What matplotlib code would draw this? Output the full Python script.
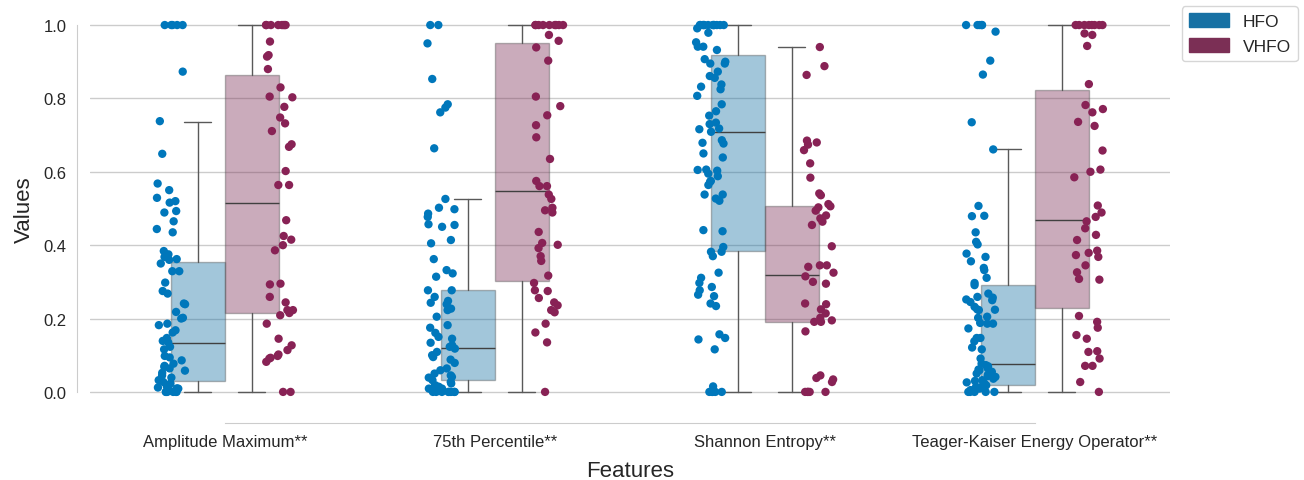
import numpy as np
import pandas as pd
import matplotlib
matplotlib.use("Agg")
import matplotlib.pyplot as plt
from matplotlib.patches import Patch
import seaborn as sns

np.random.seed(3)

features = ["Amplitude Maximum**", "75th Percentile**", "Shannon Entropy**",
            "Teager-Kaiser Energy Operator**"]
groups = ["HFO", "VHFO"]
point_colors = {"HFO": "#0077BB", "VHFO": "#882255"}
box_colors = {"HFO": "#1771a4", "VHFO": "#7b2f55"}

# values (each dot)
hfo_amp = [1.0, 1.0, 1.0, 1.0, 1.0, 0.873, 0.738, 0.649, 0.568, 0.55, 0.529, 0.516, 0.52,
           0.489, 0.493, 0.465, 0.444, 0.435, 0.384, 0.375, 0.368, 0.362, 0.36, 0.35,
           0.329, 0.329, 0.298, 0.275, 0.268, 0.241, 0.239, 0.218, 0.202, 0.2, 0.186,
           0.182, 0.168, 0.162, 0.147, 0.139, 0.135, 0.123, 0.116, 0.098, 0.094, 0.086,
           0.077, 0.071, 0.068, 0.064, 0.052, 0.045, 0.039, 0.032, 0.023, 0.015, 0.009,
           0.009, 0.009, 0.0, 0.0, 0.0, 0.0, 0.0, 0.0, 0.004, 0.012, 0.027, 0.058]
vhfo_amp = [1.0, 1.0, 1.0, 1.0, 1.0, 1.0, 1.0, 1.0, 0.955, 0.918, 0.914, 0.88, 0.83, 0.805,
            0.803, 0.777, 0.748, 0.732, 0.711, 0.675, 0.668, 0.602, 0.564, 0.564, 0.468,
            0.425, 0.415, 0.4, 0.386, 0.295, 0.293, 0.259, 0.244, 0.223, 0.223, 0.215,
            0.209, 0.186, 0.145, 0.127, 0.114, 0.102, 0.098, 0.093, 0.091, 0.082, 0.0, 0.0]
hfo_p75 = [1.0, 1.0, 0.95, 0.853, 0.784, 0.775, 0.762, 0.664, 0.526, 0.498, 0.502, 0.486,
           0.477, 0.457, 0.455, 0.45, 0.414, 0.405, 0.362, 0.332, 0.323, 0.314, 0.277,
           0.277, 0.259, 0.248, 0.243, 0.239, 0.227, 0.223, 0.205, 0.182, 0.175, 0.161,
           0.15, 0.145, 0.134, 0.127, 0.123, 0.118, 0.109, 0.1, 0.095, 0.088, 0.079,
           0.064, 0.059, 0.05, 0.045, 0.041, 0.039, 0.032, 0.027, 0.023, 0.018, 0.014,
           0.014, 0.009, 0.009, 0.0, 0.0, 0.0, 0.0, 0.0, 0.0, 0.0, 0.0]
vhfo_p75 = [1.0, 1.0, 1.0, 1.0, 1.0, 1.0, 1.0, 1.0, 1.0, 0.973, 0.957, 0.939, 0.903, 0.805,
            0.779, 0.754, 0.727, 0.694, 0.635, 0.575, 0.561, 0.561, 0.538, 0.526, 0.502,
            0.495, 0.489, 0.436, 0.406, 0.401, 0.392, 0.37, 0.357, 0.317, 0.297, 0.277,
            0.275, 0.256, 0.244, 0.236, 0.223, 0.217, 0.186, 0.162, 0.135, 0.0]
hfo_ent = [1.0, 1.0, 1.0, 1.0, 1.0, 1.0, 1.0, 1.0, 1.0, 1.0, 1.0, 1.0, 0.991, 0.979, 0.953,
           0.941, 0.932, 0.941, 0.907, 0.9, 0.895, 0.895, 0.873, 0.856, 0.861, 0.838,
           0.832, 0.825, 0.807, 0.784, 0.765, 0.753, 0.734, 0.73, 0.718, 0.716, 0.709,
           0.686, 0.677, 0.679, 0.65, 0.639, 0.606, 0.605, 0.603, 0.595, 0.588, 0.573,
           0.575, 0.564, 0.538, 0.538, 0.527, 0.521, 0.438, 0.441, 0.395, 0.382, 0.382,
           0.37, 0.297, 0.325, 0.311, 0.286, 0.277, 0.265, 0.261, 0.241, 0.234, 0.157,
           0.147, 0.143, 0.116, 0.015, 0.0, 0.0, 0.0, 0.0, 0.0]
vhfo_ent = [0.94, 0.888, 0.864, 0.68, 0.685, 0.674, 0.659, 0.623, 0.584, 0.541, 0.536, 0.512,
            0.503, 0.506, 0.494, 0.481, 0.473, 0.464, 0.455, 0.397, 0.345, 0.341, 0.345,
            0.325, 0.315, 0.3, 0.295, 0.241, 0.239, 0.225, 0.214, 0.202, 0.195, 0.191,
            0.191, 0.165, 0.045, 0.038, 0.034, 0.027, 0.0, 0.0, 0.0, 0.0, 0.0]
hfo_tkeo = [1.0, 1.0, 1.0, 1.0, 1.0, 0.982, 0.903, 0.865, 0.735, 0.661, 0.507, 0.48, 0.479,
            0.435, 0.409, 0.402, 0.377, 0.368, 0.356, 0.338, 0.332, 0.311, 0.297, 0.291,
            0.268, 0.259, 0.245, 0.257, 0.252, 0.25, 0.232, 0.225, 0.224, 0.223, 0.205,
            0.202, 0.186, 0.186, 0.188, 0.173, 0.147, 0.147, 0.138, 0.116, 0.121, 0.091,
            0.077, 0.073, 0.07, 0.065, 0.061, 0.059, 0.055, 0.05, 0.043, 0.041, 0.036,
            0.032, 0.03, 0.023, 0.018, 0.014, 0.014, 0.009, 0.0, 0.0, 0.0, 0.0, 0.0,
            0.005, 0.026, 0.047]
vhfo_tkeo = [1.0, 1.0, 1.0, 1.0, 1.0, 1.0, 1.0, 1.0, 0.977, 0.973, 0.943, 0.839, 0.782,
             0.771, 0.762, 0.736, 0.725, 0.658, 0.606, 0.6, 0.585, 0.508, 0.489, 0.477,
             0.465, 0.446, 0.428, 0.414, 0.385, 0.379, 0.373, 0.368, 0.345, 0.326, 0.308,
             0.306, 0.207, 0.191, 0.175, 0.155, 0.145, 0.111, 0.109, 0.091, 0.071, 0.071,
             0.027, 0.0]

# box summaries, order = features
hfo_q1 = [0.029, 0.032, 0.383, 0.020]
hfo_med = [0.133, 0.120, 0.709, 0.075]
hfo_q3 = [0.353, 0.277, 0.918, 0.291]
hfo_lo = [0.0, 0.0, 0.0, 0.0]
hfo_hi = [0.737, 0.525, 1.0, 0.661]
vhfo_q1 = [0.215, 0.302, 0.190, 0.230]
vhfo_med = [0.514, 0.548, 0.318, 0.469]
vhfo_q3 = [0.865, 0.952, 0.507, 0.823]
vhfo_lo = [0.0, 0.0, 0.0, 0.0]
vhfo_hi = [1.0, 1.0, 0.940, 1.0]

series = {
    "HFO": [hfo_amp, hfo_p75, hfo_ent, hfo_tkeo],
    "VHFO": [vhfo_amp, vhfo_p75, vhfo_ent, vhfo_tkeo],
}
rows = []
for g in groups:
    for f, vals in zip(features, series[g]):
        for v in vals:
            rows.append((f, g, v))
df = pd.DataFrame(rows, columns=["Features", "Group", "Values"])

sns.set_style("whitegrid")
plt.rcParams["font.family"] = ["Liberation Sans", "DejaVu Sans"]

fig = plt.figure(figsize=(13.04, 4.81), dpi=100)
ax = fig.add_axes([0.069, 0.145, 0.828, 0.839])

# boxes
summ = {
    "HFO": (hfo_lo, hfo_q1, hfo_med, hfo_q3, hfo_hi),
    "VHFO": (vhfo_lo, vhfo_q1, vhfo_med, vhfo_q3, vhfo_hi),
}
for k, g in enumerate(groups):
    lo, q1, med, q3, hi = summ[g]
    stats = [dict(whislo=lo[i], q1=q1[i], med=med[i], q3=q3[i], whishi=hi[i])
             for i in range(len(features))]
    pos = np.arange(len(features)) + (-0.1 if k == 0 else 0.1)
    ax.bxp(stats, positions=pos, widths=0.2, patch_artist=True, showfliers=False,
           manage_ticks=False,
           boxprops=dict(facecolor=box_colors[g], edgecolor="0.3", linewidth=1, alpha=0.4),
           whiskerprops=dict(color="0.35", linewidth=1),
           capprops=dict(color="0.35", linewidth=1),
           medianprops=dict(color="0.25", linewidth=1))

sns.stripplot(data=df, x="Features", y="Values", hue="Group", order=features,
              hue_order=groups, palette=point_colors, dodge=True, jitter=0.11,
              size=6, linewidth=0, legend=False, ax=ax, zorder=3)

ax.set_xlim(-0.5, 3.5)
ax.set_ylim(-0.05, 1.05)
ax.set_yticks([0.0, 0.2, 0.4, 0.6, 0.8, 1.0])
ax.set_yticklabels(["0.0", "0.2", "0.4", "0.6", "0.8", "1.0"])
ax.grid(axis="x", visible=False)
ax.grid(axis="y", color="0.8", linewidth=1)
ax.tick_params(axis="both", labelsize=12, pad=8, length=0, colors="0.15")
ax.set_xlabel("Features", fontsize=16, color="0.15", labelpad=8)
ax.set_ylabel("Values", fontsize=16, color="0.15", labelpad=6)

for s in ["top", "right"]:
    ax.spines[s].set_visible(False)
ax.spines["left"].set_position(("outward", 9))
ax.spines["bottom"].set_position(("outward", 9))
ax.spines["left"].set_bounds(0, 1)
ax.spines["bottom"].set_bounds(0, 3)
for s in ["left", "bottom"]:
    ax.spines[s].set_color("0.8")

handles = [Patch(facecolor=box_colors[g], edgecolor=box_colors[g], label=g) for g in groups]
ax.legend(handles=handles, loc="upper left", bbox_to_anchor=(1.008, 1.01), fontsize=12.5,
          frameon=True, handlelength=2.3, handleheight=0.9, borderaxespad=0.2)

fig.savefig("out.png", dpi=100)
